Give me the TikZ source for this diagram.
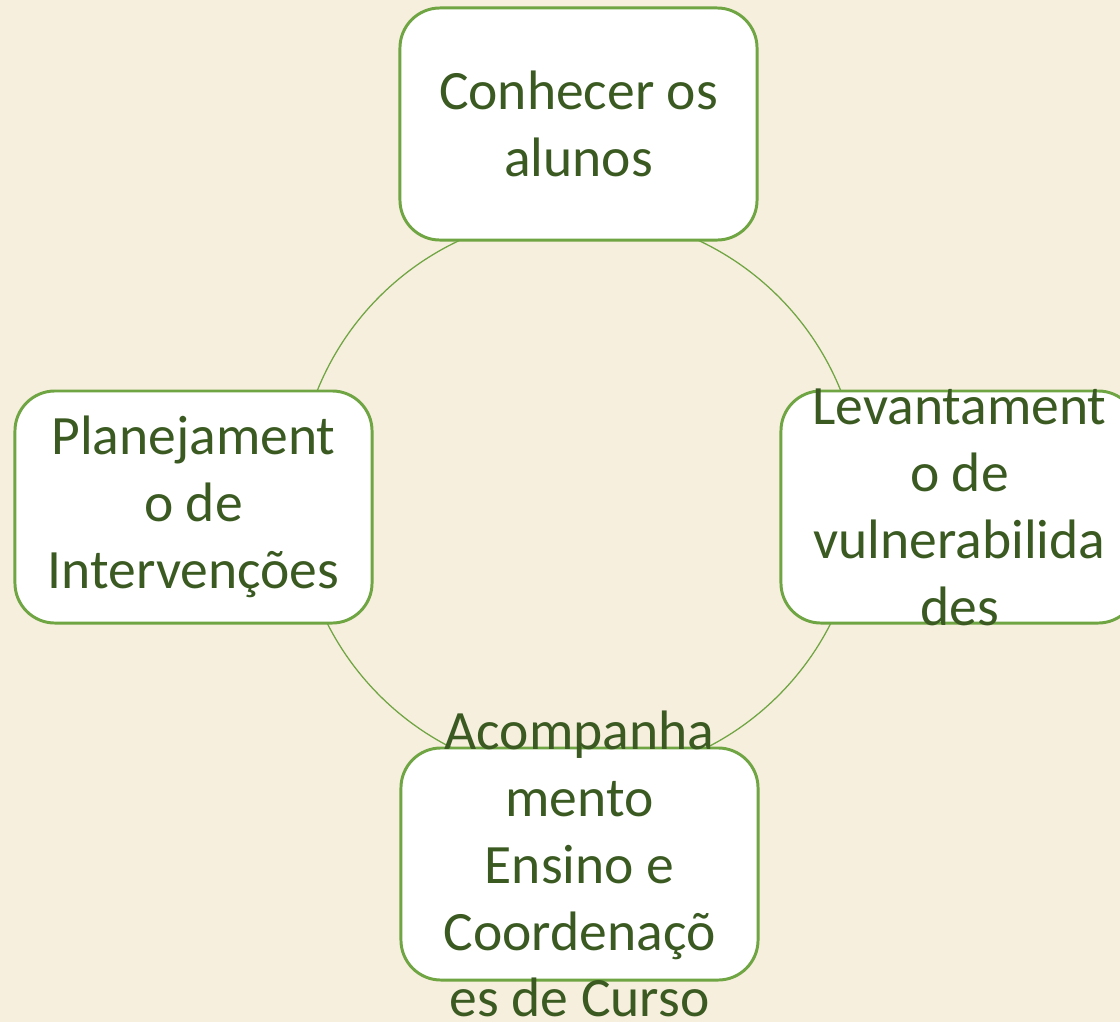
\documentclass[tikz,border=0pt]{standalone}
\usepackage{fontspec}
\setmainfont{Carlito}
\usepackage{tikz}
\definecolor{fundo}{HTML}{F7EFDD}
\definecolor{borda}{HTML}{6FA543}
\definecolor{letra}{HTML}{3A5A22}

\begin{document}
\begin{tikzpicture}[x=0.025cm,y=-0.025cm,
  etapa/.style={draw=borda, line width=2.1pt, fill=white, rounded corners=1cm,
    minimum width=8.925cm, minimum height=5.8cm, inner sep=0pt},
  rotulo/.style={text=letra, align=center, inner sep=0pt,
    font=\fontsize{39.5}{47.6}\selectfont}]
             \fill[fundo] (0,0) rectangle (1120,1022);
             \useasboundingbox (0,0) rectangle (1120,1022);
             \coordinate (hub) at (579,496);
             \draw[borda, line width=0.9pt] (hub) circle[radius=7.05cm];
             \node[etapa] (conhecer) at (578.5,124) {};
             \node[etapa] (levant) at (959.5,507) {};
             \node[etapa] (acomp) at (579.5,864) {};
             \node[etapa] (planej) at (193.5,507) {};
             \node[rotulo] (conhecer-t) at (conhecer) {Conhecer os\\alunos};
             \node[rotulo] (levant-t) at (levant) {Levantament\\o de\\vulnerabilida\\des};
             \node[rotulo] (acomp-t) at (acomp) {Acompanha\\mento\\Ensino e\\Coordenaçõ\\es de Curso};
             \node[rotulo] (planej-t) at (planej) {Planejament\\o de\\Intervenções};
            \end{tikzpicture}
\end{document}
